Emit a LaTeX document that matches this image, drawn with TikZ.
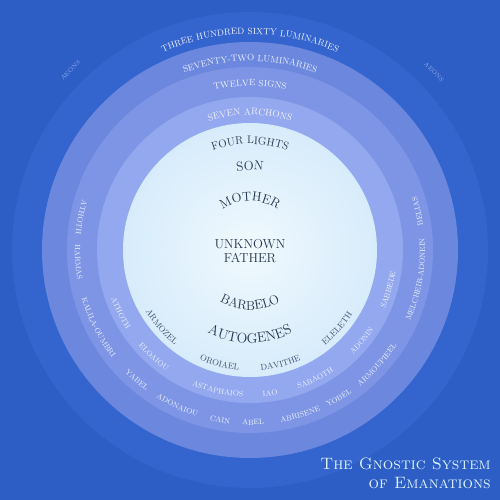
\documentclass[tikz,border=0pt]{standalone}
\usetikzlibrary{decorations.text}
\definecolor{bgblue}{HTML}{2D5EC6}
\definecolor{ringA}{HTML}{3464CD}
\definecolor{ringB}{HTML}{6B88DE}
\definecolor{ringC}{HTML}{7E95E5}
\definecolor{ringD}{HTML}{94A8EF}
\definecolor{diskedge}{HTML}{B2CAF4}
\definecolor{diskmid}{HTML}{D4EAFA}
\definecolor{diskcenter}{HTML}{F0F9FE}
\definecolor{darktext}{HTML}{26354F}
\definecolor{lighttext}{HTML}{3E5070}
\definecolor{ringtext}{HTML}{EEF2FD}
\definecolor{fainttext}{HTML}{8FAAEB}
\definecolor{titletext}{HTML}{DDF3FF}
\pgfdeclareradialshading{diskshade}{\pgfpoint{0bp}{0bp}}{color(0bp)=(diskcenter); color(28bp)=(diskmid); color(42bp)=(diskmid!70!diskedge); color(50bp)=(diskedge)}
% angle, radius, halfspan, font size, colour, text
\newcommand\toparc[6]{\path[decorate,decoration={text along path,text align=center,text color=#5,text={|\fontsize{#4}{#4}\selectfont|#6}}] (#1+#3:#2) arc[start angle=#1+#3,end angle=#1-#3,radius=#2];}
\newcommand\botarc[6]{\path[decorate,decoration={text along path,text align=center,text color=#5,text={|\fontsize{#4}{#4}\selectfont|#6}}] (#1-#3:#2) arc[start angle=#1-#3,end angle=#1+#3,radius=#2];}
\begin{document}
\begin{tikzpicture}[x=1pt,y=1pt]
\useasboundingbox (-250,-250) rectangle (250,250);
\fill[bgblue] (-250,-250) rectangle (250,250);
\fill[ringA] (0,0) circle (238);
\fill[ringB] (0,0) circle (208);
\fill[ringC] (0,0) circle (183);
\fill[ringD] (0,0) circle (153);
\shade[shading=diskshade] (0,0) circle (127);

% outer headings
\toparc{135}{252}{12}{6}{fainttext}{AEONS}
\toparc{44}{254}{12}{6}{fainttext}{AEONS}
\toparc{90}{216}{40}{9}{ringtext}{THREE HUNDRED SIXTY LUMINARIES}
\toparc{90}{189}{40}{9}{ringtext}{SEVENTY-TWO LUMINARIES}
\toparc{90}{164}{30}{9}{ringtext}{TWELVE SIGNS}
\toparc{90}{135}{40}{9.5}{ringtext}{SEVEN ARCHONS}
\toparc{90}{106}{45}{11}{darktext}{FOUR LIGHTS}
\toparc{90}{80}{30}{13}{darktext}{SON}
\toparc{90}{49}{80}{13}{darktext}{MOTHER}

\node[font=\fontsize{13}{14}\selectfont, text=darktext, align=center] (father) at (0,-1) {UNKNOWN\\FATHER};

\botarc{270}{60}{80}{13}{darktext}{BARBELO}
\botarc{270}{93}{60}{14}{darktext}{AUTOGENES}

% four lights
\botarc{221}{121}{20}{8.5}{lighttext}{ARMOZEL}
\botarc{255}{121}{20}{8.5}{lighttext}{OROIAEL}
\botarc{285}{121}{20}{8.5}{lighttext}{DAVITHE}
\botarc{318}{121}{20}{8.5}{lighttext}{ELELETH}

% seven archons
\botarc{206}{147}{25}{7.5}{ringtext}{ATHOTH}
\botarc{228}{147}{20}{7.5}{ringtext}{ELOAIOU}
\botarc{257}{147}{20}{7.5}{ringtext}{ASTAPHAIOS}
\botarc{278}{147}{20}{7.5}{ringtext}{IAO}
\botarc{297}{147}{20}{7.5}{ringtext}{SABAOTH}
\botarc{321}{147}{20}{7.5}{ringtext}{ADONIN}
\botarc{344}{147}{20}{7.5}{ringtext}{SABBEDE}

% twelve
\botarc{169}{175}{20}{7.5}{ringtext}{ATHOTH}
\botarc{184}{175}{20}{7.5}{ringtext}{HARMAS}
\botarc{207}{175}{25}{7.5}{ringtext}{KALILA-OUMBRI}
\botarc{229}{175}{20}{7.5}{ringtext}{YABEL}
\botarc{245}{175}{20}{7.5}{ringtext}{ADONAIOU}
\botarc{260}{175}{20}{7.5}{ringtext}{CAIN}
\botarc{271}{175}{20}{7.5}{ringtext}{ABEL}
\botarc{287}{175}{20}{7.5}{ringtext}{ABRISENE}
\botarc{301}{175}{20}{7.5}{ringtext}{YOBEL}
\botarc{318}{175}{20}{7.5}{ringtext}{ARMOUPIEEL}
\botarc{350}{175}{25}{7.5}{ringtext}{MELCHEIR-ADONEIN}
\botarc{13}{175}{20}{7.5}{ringtext}{BELIAS}

\node[anchor=north east, font=\fontsize{16.5}{19}\selectfont, text=titletext, align=right, inner sep=0pt] (title) at (241,-208) {\textsc{The Gnostic System}\\\textsc{of Emanations}};
\end{tikzpicture}
\end{document}
